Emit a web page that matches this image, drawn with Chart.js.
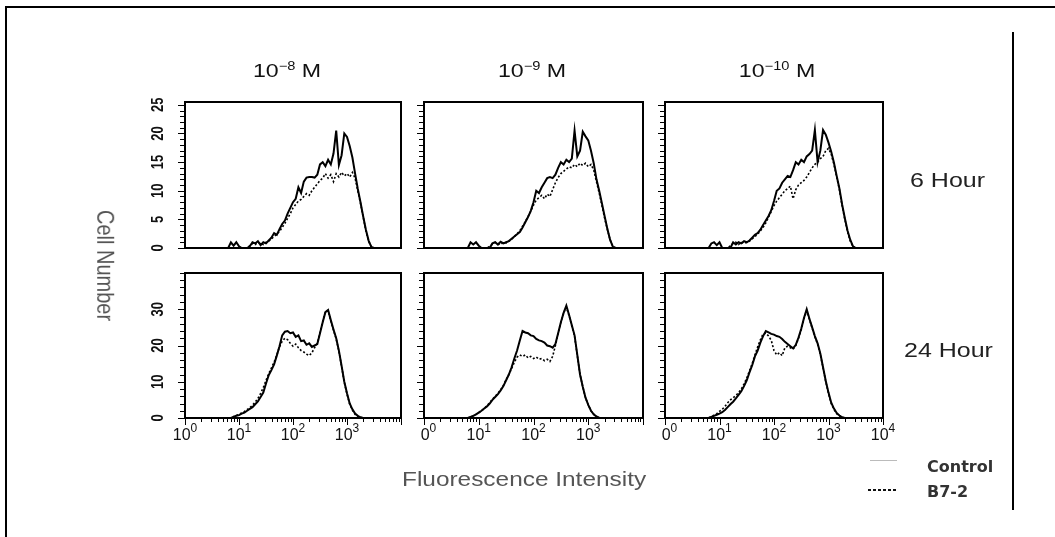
<!DOCTYPE html>
<html><head><meta charset="utf-8">
<script src="https://cdn.jsdelivr.net/npm/chart.js@4.4.0/dist/chart.umd.min.js"></script>
<style>
html,body{margin:0;padding:0;background:#fff;}
body{width:1055px;height:537px;position:relative;overflow:hidden;font-family:"Liberation Sans",Arial,sans-serif;}
canvas{position:absolute;}
.t{position:absolute;white-space:nowrap;line-height:1;transform-origin:0 0;}
.ct{transform-origin:50% 0;transform:translateX(-50%) scaleX(1.22);}
.sup{font-size:12px;position:relative;top:-7px;}
</style></head><body>
<canvas id="deco" width="1055" height="537" style="left:0;top:0"></canvas>

<div class="t ct" style="left:287px;top:61px;font-size:19px;color:#111">10<span class="sup">−8</span> M</div>
<div class="t ct" style="left:532px;top:61px;font-size:19px;color:#111">10<span class="sup">−9</span> M</div>
<div class="t ct" style="left:777px;top:61px;font-size:19px;color:#111">10<span class="sup">−10</span> M</div>

<div class="t" style="left:910px;top:170px;font-size:20px;color:#222;transform:scaleX(1.25)">6 Hour</div>
<div class="t" style="left:904px;top:340px;font-size:20px;color:#222;transform:scaleX(1.25)">24 Hour</div>

<div class="t" style="left:118px;top:210px;font-size:20px;color:#555;transform:rotate(90deg) scaleY(1.2)">Cell Number</div>
<div class="t" style="left:402px;top:469px;font-size:20px;color:#555;transform:scaleX(1.22)">Fluorescence Intensity</div>

<div class="t" style="left:927px;top:459px;font-size:16px;font-weight:bold;color:#333;font-family:'DejaVu Sans',sans-serif">Control</div>
<div class="t" style="left:927px;top:484px;font-size:16px;font-weight:bold;color:#333;font-family:'DejaVu Sans',sans-serif">B7-2</div>

<script>
// ---- data: bin centres in decades (log10 fluorescence), cell counts per bin ----
const XS = [0,0.05,0.1,0.15,0.2,0.25,0.3,0.35,0.4,0.45,0.5,0.55,0.6,0.65,0.7,0.75,0.8,0.85,0.9,0.95,1,1.05,1.1,1.15,1.2,1.25,1.3,1.35,1.4,1.45,1.5,1.55,1.6,1.65,1.7,1.75,1.8,1.85,1.9,1.95,2,2.05,2.1,2.15,2.2,2.25,2.3,2.35,2.4,2.45,2.5,2.55,2.6,2.65,2.7,2.75,2.8,2.85,2.9,2.95,3,3.05,3.1,3.15,3.2,3.25,3.3,3.35,3.4,3.45,3.5,3.55,3.6,3.65,3.7,3.75,3.8,3.85,3.9,3.95,4];

// 6 hour, 10^-8 M
const H6_M8_CONTROL = [0,0,0,0,0,0,0,0,0,0, 0,0,0,0,0,0,0,1,0.4,1, 0.3,0,0,0,0.3,1,0.8,1.2,0.5,1, 0.8,1.3,1.8,2.6,2.3,3.3,4.2,4.8,6,7, 8,8.6,10.6,9.6,11.6,12.3,12.4,12.4,12.3,12.8, 14.6,15,14.3,15.4,14.6,16.5,20.5,14.5,16.2,20, 19.4,17.8,15.8,13,10.3,8,5.5,3.2,1.3,0.2, 0,0,0,0,0,0,0,0,0,0, 0];
const H6_M8_B72 = [0,0,0,0,0,0,0,0,0,0, 0,0,0,0,0,0,0,0,0,0, 0,0,0,0,0.4,0.8,0.6,1,0.8,0.6, 1,1.2,1.6,2,2.4,2.9,3.6,4.3,5.2,6, 7,7.6,8.2,8.5,9,9.5,9.2,10,10.6,11.2, 11.8,12.2,13,12.2,12.8,11.6,13,12.4,13.2,12.6, 13,12.4,13.2,12.2,10,7.8,5.4,3,1.2,0.2, 0,0,0,0,0,0,0,0,0,0, 0];
// 6 hour, 10^-9 M
const H6_M9_CONTROL = [0,0,0,0,0,0,0,0,0,0, 0,0,0,0,0,0,0,1,0.6,1, 0.4,0,0,0,0,0.8,1,0.6,1.1,0.8, 1,1.2,1.6,2,2.4,2.8,3.6,4.5,5.4,6.5, 8,10,9.6,10.6,11.4,12.2,12.4,12.2,12.8,14, 15,14.6,15.4,15,15.6,20.5,16,17,20.3,19.5, 18.8,17,14.8,12,10,7.8,5.5,3.3,1.4,0.2, 0,0,0,0,0,0,0,0,0,0, 0];
const H6_M9_B72 = [0,0,0,0,0,0,0,0,0,0, 0,0,0,0,0,0,0,0,0,0, 0,0,0,0,0.3,0.7,1,0.8,0.6,1, 0.9,1.2,1.5,2,2.5,3,3.8,4.6,5.5,6.4, 7.5,8.4,8.8,9.2,8.6,9.4,9,10.2,11.4,12.3, 13,13.4,13.8,14.2,14,14.6,14.2,14.8,14.4,14.8, 14.2,14.6,13.6,11.6,9.6,7.4,5.2,3.2,1.4,0.3, 0,0,0,0,0,0,0,0,0,0, 0];
// 6 hour, 10^-10 M
const H6_M10_CONTROL = [0,0,0,0,0,0,0,0,0,0, 0,0,0,0,0,0,0,0.8,1,0.5, 1,0,0,0,0,1,0.6,1,0.8,1.2, 1,1.3,1.8,2.3,2.6,3.2,4,4.8,5.6,6.6, 8.2,10,10.4,11.4,12,12.6,12.4,13.6,15,14.6, 15.4,15,16,16.4,17,20.6,15,17,20.6,19.8, 18.4,16.8,14.9,12.6,10.4,7.6,5.2,3,1.4,0.3, 0,0,0,0,0,0,0,0,0,0, 0];
const H6_M10_B72 = [0,0,0,0,0,0,0,0,0,0, 0,0,0,0,0,0,0,0,0,0, 0,0,0,0,0.4,0.8,1,0.6,1,0.8, 1,1.2,1.6,2,2.4,3,3.6,4.4,5.4,6.4, 7.4,8.2,8.8,9.4,10,10.4,10.8,8.6,10.2,11, 11.4,11.8,12.4,13.2,14,14.6,15,15.6,16,17, 17.4,16.4,14.6,12.4,10.2,7.4,5,2.8,1.2,0.2, 0,0,0,0,0,0,0,0,0,0, 0];
// 24 hour, 10^-8 M
const H24_M8_CONTROL = [0,0,0,0,0,0,0,0,0,0, 0,0,0,0,0,0,0,0,0.3,0.6, 0.8,1.2,1.5,2,2.5,3,3.8,4.6,5.8,7, 9.5,11.8,13.2,14.8,17.2,19.8,22.8,23.8,24,23.4, 23.6,22.4,22.8,21.2,21.4,20.2,20.6,19.6,20,20.4, 23.4,26.4,29.2,29.8,27,24.4,22,18.6,14.4,10, 6.8,4,2.4,1.2,0.6,0.2,0,0,0,0, 0,0,0,0,0,0,0,0,0,0, 0];
const H24_M8_B72 = [0,0,0,0,0,0,0,0,0,0, 0,0,0,0,0,0,0,0,0.4,0.7, 1,1.4,1.8,2.3,2.9,3.5,4.4,5.4,6.8,8.4, 10.4,12.2,13.8,15.4,17.4,19.6,21.2,22,21.6,20.6, 19.8,20.4,19.4,18.6,18.2,17.6,17.2,18,19.4,20.6, 23.6,26.6,29.4,29.6,26.8,24.2,21.8,18.4,14.2,9.8, 6.6,3.8,2.2,1,0.5,0.2,0,0,0,0, 0,0,0,0,0,0,0,0,0,0, 0];
// 24 hour, 10^-9 M
const H24_M9_CONTROL = [0,0,0,0,0,0,0,0,0,0, 0,0,0,0,0,0,0,0.3,0.6,1, 1.5,2,2.6,3.2,4,5,5.8,6.6,7.6,8.8, 10.4,12,14,16.4,18.6,21.4,24,23.6,23.4,22.8, 22.6,21.8,21.4,21.2,20.8,20,19.8,19.4,20.4,23.4, 26.4,29,31,28.4,25.6,22.8,17.4,12,8.6,5.6, 3.6,2,1,0.4,0.1,0,0,0,0,0, 0,0,0,0,0,0,0,0,0,0, 0];
const H24_M9_B72 = [0,0,0,0,0,0,0,0,0,0, 0,0,0,0,0,0,0,0.3,0.6,1, 1.5,2,2.6,3.4,4.2,5.2,6,6.8,7.8,9, 10.6,12,13.6,15.4,16.8,17.4,17,17.4,16.6,17, 16.4,16.8,16.2,16.4,15.8,16.2,15.6,17,20,23.4, 26.4,29,30.6,28.2,25.4,22.6,17.2,12,8.6,5.6, 3.6,2,1,0.4,0.1,0,0,0,0,0, 0,0,0,0,0,0,0,0,0,0, 0];
// 24 hour, 10^-10 M
const H24_M10_CONTROL = [0,0,0,0,0,0,0,0,0,0, 0,0,0,0,0,0,0,0.3,0.6,0.9, 1.2,1.6,2.2,3,3.8,4.5,5.4,6.4,7.4,8.8, 10.4,12.6,14.6,17,18.6,20.8,22.6,24,23.6,23.2, 23,22.6,22.4,21.8,21,20.4,19.8,19.2,20.2,22.2, 24.6,27.6,30,27.4,25,22.6,20.6,17.8,14,10.2, 7,4.2,2.6,1.4,0.7,0.2,0,0,0,0, 0,0,0,0,0,0,0,0,0,0, 0];
const H24_M10_B72 = [0,0,0,0,0,0,0,0,0,0, 0,0,0,0,0,0,0,0.4,0.8,1.2, 1.8,2.4,3.2,4.2,5,5.6,6.2,7,8,9.4, 11,13,15,17.4,19.6,21.6,23.2,23.4,22.6,21.4, 18.6,17.4,18,17.2,19.4,19.8,19.4,19,20,22, 24.4,27.4,29.6,27.2,24.8,22.4,20.4,17.6,13.8,10, 6.8,4,2.4,1.2,0.6,0.2,0,0,0,0, 0,0,0,0,0,0,0,0,0,0, 0];

// ---- axis tick values ----
const X_DECADES = [0, 1, 2, 3, 4];
const X_MINOR_MULT = [2, 3, 4, 5, 6, 7, 8, 9];
const X_LABEL_EXPS = [[0, 1, 2, 3], [0, 1, 2, 3], [0, 1, 2, 3, 4]];
const Y_LABELS = [[0, 5, 10, 15, 20, 25], [0, 10, 20, 30]];
const Y_MAX = [25.5, 40];
const Y_TICK_TOP = [25, 40];
const Y_MINOR_STEP = [1, 2];

// ---- layout (pixels) ----
const COL_LEFT = [185, 424, 665];
const COL_W = [216, 219, 218];
const ROW_TOP = [102, 273];
const ROW_H = [146, 145];

const PANELS = [
  [H6_M8_CONTROL, H6_M8_B72], [H6_M9_CONTROL, H6_M9_B72], [H6_M10_CONTROL, H6_M10_B72],
  [H24_M8_CONTROL, H24_M8_B72], [H24_M9_CONTROL, H24_M9_B72], [H24_M10_CONTROL, H24_M10_B72]
];

const FONT = '"Liberation Sans", Arial, sans-serif';

const panelDecor = {
  id: 'panelDecor',
  afterDraw(chart) {
    const cfg = chart.options.plugins.panelDecor;
    const { ctx, chartArea: a } = chart;
    const xs = chart.scales.x, ys = chart.scales.y;
    ctx.save();
    ctx.strokeStyle = '#000';
    ctx.fillStyle = '#111';
    // frame
    ctx.lineWidth = 2;
    ctx.strokeRect(a.left, a.top, a.right - a.left, a.bottom - a.top);
    // y ticks
    ctx.lineWidth = 1;
    const r = cfg.row;
    for (let v = 0; v <= Y_TICK_TOP[r] + 1e-6; v += Y_MINOR_STEP[r]) {
      const py = Math.round(ys.getPixelForValue(v)) + 0.5;
      const major = Y_LABELS[r].includes(v);
      ctx.beginPath();
      ctx.moveTo(a.left - (major ? 7 : 5), py);
      ctx.lineTo(a.left, py);
      ctx.stroke();
    }
    // y labels (first column only), rotated
    if (cfg.col === 0) {
      ctx.font = 'bold 13px ' + FONT;
      ctx.textAlign = 'center';
      ctx.textBaseline = 'middle';
      Y_LABELS[r].forEach(v => {
        const py = ys.getPixelForValue(v);
        ctx.save();
        ctx.translate(a.left - 26, py);
        ctx.rotate(-Math.PI / 2);
        ctx.scale(1, 1.2);
        ctx.fillText(String(v), 0, 0);
        ctx.restore();
      });
    }
    // x ticks + labels (bottom row only)
    if (r === 1) {
      ctx.lineWidth = 1;
      X_DECADES.forEach((d, k) => {
        const mp = Math.round(xs.getPixelForValue(d)) + 0.5;
        ctx.beginPath(); ctx.moveTo(mp, a.bottom); ctx.lineTo(mp, a.bottom + 7); ctx.stroke();
        if (k < X_DECADES.length - 1) {
          X_MINOR_MULT.forEach(m => {
            const p = Math.round(xs.getPixelForValue(d + Math.log10(m))) + 0.5;
            ctx.beginPath(); ctx.moveTo(p, a.bottom); ctx.lineTo(p, a.bottom + 4); ctx.stroke();
          });
        }
      });
      X_LABEL_EXPS[cfg.col].forEach((e, i) => {
        const px = xs.getPixelForValue(e);
        ctx.textAlign = 'left';
        ctx.textBaseline = 'alphabetic';
        ctx.font = '16px ' + FONT;
        const wBase = ctx.measureText('10').width;
        const wOne = ctx.measureText('1').width;
        ctx.font = '12px ' + FONT;
        const wExp = ctx.measureText(String(e)).width;
        const start = px - (wBase + wExp) / 2;
        const base = a.bottom + 22;
        ctx.font = '16px ' + FONT;
        if (cfg.col > 0 && i === 0) ctx.fillText('0', start + wOne, base);
        else ctx.fillText('10', start, base);
        ctx.font = '12px ' + FONT;
        ctx.fillText(String(e), start + wBase, base - 8);
      });
    }
    ctx.restore();
  }
};

PANELS.forEach((pair, idx) => {
  const row = Math.floor(idx / 3), col = idx % 3;
  const padL = 60, padR = 24, padT = 8, padB = 40;
  const cv = document.createElement('canvas');
  cv.width = COL_W[col] + padL + padR;
  cv.height = ROW_H[row] + padT + padB;
  cv.style.left = (COL_LEFT[col] - padL) + 'px';
  cv.style.top = (ROW_TOP[row] - padT) + 'px';
  document.body.appendChild(cv);
  new Chart(cv, {
    type: 'line',
    data: {
      datasets: [
        { label: 'Control', data: XS.map((x, i) => ({ x, y: pair[0][i] })),
          borderColor: '#000', borderWidth: 2, pointRadius: 0, tension: 0, fill: false },
        { label: 'B7-2', data: XS.map((x, i) => ({ x, y: pair[1][i] })),
          borderColor: '#000', borderWidth: 1.6, borderDash: [2, 2], pointRadius: 0, tension: 0, fill: false }
      ]
    },
    options: {
      responsive: false, animation: false, devicePixelRatio: 1, events: [],
      layout: { padding: { left: padL, right: padR, top: padT, bottom: padB } },
      scales: {
        x: { type: 'linear', min: 0, max: 4, display: false },
        y: { type: 'linear', min: 0, max: Y_MAX[row], display: false }
      },
      plugins: { legend: { display: false }, tooltip: { enabled: false }, panelDecor: { row, col } }
    },
    plugins: [panelDecor]
  });
});

// page frame and legend keys
const dc = document.getElementById('deco').getContext('2d');
dc.strokeStyle = '#000';
dc.lineWidth = 2;
dc.beginPath(); dc.moveTo(6, 537); dc.lineTo(6, 7); dc.lineTo(1055, 7); dc.stroke();
dc.beginPath(); dc.moveTo(1013, 32); dc.lineTo(1013, 510); dc.stroke();
dc.strokeStyle = '#bbb'; dc.lineWidth = 1;
dc.beginPath(); dc.moveTo(870, 460.5); dc.lineTo(897, 460.5); dc.stroke();
dc.strokeStyle = '#111'; dc.lineWidth = 2; dc.setLineDash([3, 2]);
dc.beginPath(); dc.moveTo(868, 490); dc.lineTo(897, 490); dc.stroke();
</script>
</body></html>
